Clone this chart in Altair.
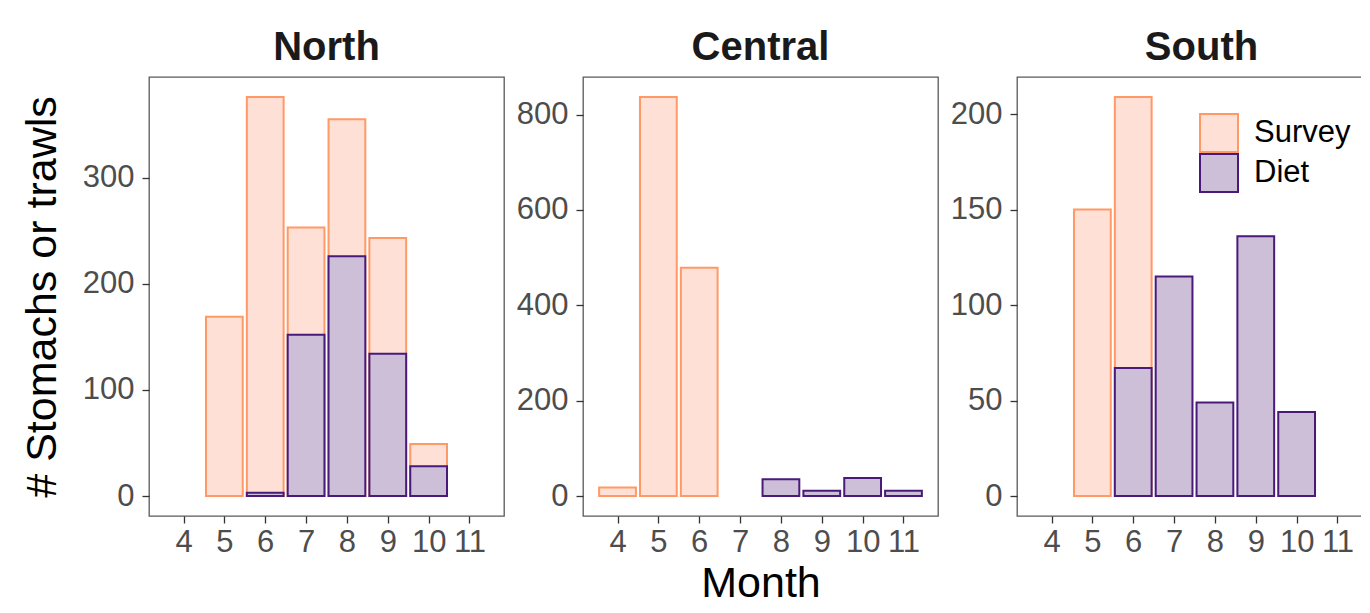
import altair as alt
import pandas as pd

# ---- data ----
regions = ["North", "Central", "South"]
types = ["Survey", "Diet"]

north_survey_months = [5, 6, 7, 8, 9, 10]
north_survey_counts = [169, 376, 253, 355, 243, 49]
north_diet_months = [6, 7, 8, 9, 10]
north_diet_counts = [3, 152, 226, 134, 28]

central_survey_months = [4, 5, 6]
central_survey_counts = [18, 837, 479]
central_diet_months = [8, 9, 10, 11]
central_diet_counts = [35, 11, 38, 11]

south_survey_months = [5, 6]
south_survey_counts = [150, 209]
south_diet_months = [6, 7, 8, 9, 10]
south_diet_counts = [67, 115, 49, 136, 44]

month_ticks = [4, 5, 6, 7, 8, 9, 10, 11]
north_y_ticks = [0, 100, 200, 300]
central_y_ticks = [0, 200, 400, 600, 800]
south_y_ticks = [0, 50, 100, 150, 200]

fill_colors = ["#FFE0D6", "#CDBFD8"]
stroke_colors = ["#FF9966", "#4A1A7A"]

FONT = "Liberation Sans"

series = {
    "North": [(north_survey_months, north_survey_counts), (north_diet_months, north_diet_counts)],
    "Central": [(central_survey_months, central_survey_counts), (central_diet_months, central_diet_counts)],
    "South": [(south_survey_months, south_survey_counts), (south_diet_months, south_diet_counts)],
}

rows = []
for reg in regions:
    for t, (ms, cs) in zip(types, series[reg]):
        for m, c in zip(ms, cs):
            rows.append({"region": reg, "type": t, "month": m, "count": c})
df = pd.DataFrame(rows)

X_MIN = 3.155
X_MAX = 11.845
PANEL_W = 355
PANEL_H = 439


def panel(region, y_ticks, x_title, y_title, legend, title_dx=0):
    d = df[df["region"] == region]
    ymax = float(d["count"].max())
    ydom = [-0.05 * ymax, 1.05 * ymax]

    x_axis = alt.Axis(
        values=month_ticks, labelOverlap=False, labelFlush=False,
        labelPadding=4, title=x_title if x_title else None,
        titlePadding=5,
    )
    if y_title:
        y_axis = alt.Axis(
            values=y_ticks, labelPadding=8, labelOverlap=False, labelFlush=False,
            title=y_title, titleAngle=270, titleX=-94, titleY=PANEL_H / 2,
            titleAlign="center", titleBaseline="alphabetic",
        )
    else:
        y_axis = alt.Axis(values=y_ticks, labelPadding=8, labelOverlap=False,
                          labelFlush=False, title=None)

    if legend:
        lg = alt.Legend(
            title=None, orient="none", legendX=182, legendY=36,
            symbolType="square", symbolSize=1444, symbolStrokeWidth=2,
            symbolOpacity=1, labelFontSize=31, labelFont=FONT, labelColor="black",
            labelOffset=15, rowPadding=0, clipHeight=40, padding=0,
        )
    else:
        lg = None

    fill_kw = dict(scale=alt.Scale(domain=types, range=fill_colors), sort=types, legend=lg)
    stroke_kw = dict(scale=alt.Scale(domain=types, range=stroke_colors), sort=types, legend=lg)

    ch = (
        alt.Chart(d)
        .transform_calculate(x0="datum.month - 0.45", x1="datum.month + 0.45")
        .mark_bar(strokeWidth=2, opacity=1)
        .encode(
            x=alt.X("x0:Q", scale=alt.Scale(domain=[X_MIN, X_MAX], nice=False, zero=False), axis=x_axis),
            x2="x1:Q",
            y=alt.Y("count:Q", stack=None, scale=alt.Scale(domain=ydom, nice=False, zero=False), axis=y_axis),
            y2=alt.datum(0),
            fill=alt.Fill("type:N", **fill_kw),
            stroke=alt.Stroke("type:N", **stroke_kw),
        )
        .properties(width=PANEL_W, height=PANEL_H,
                    title=alt.TitleParams(region, dx=title_dx))
    )
    return ch


north = panel("North", north_y_ticks, None, "# Stomachs or trawls", False)
central = panel("Central", central_y_ticks, "Month", None, False)
south = panel("South", south_y_ticks, None, None, True, title_dx=7)

chart = (
    alt.hconcat(north, central, south, spacing=79, bounds="flush")
    .resolve_legend(fill="independent", stroke="independent")
    .properties(padding={"left": 12, "top": 19, "right": -12, "bottom": 0}, background="white")
    .configure_view(stroke="#595959", strokeWidth=1.3, fill="white")
    .configure_axis(
        domain=False, grid=False, ticks=True, tickColor="#333333", tickSize=7,
        tickWidth=1.3, labelFont=FONT, labelFontSize=31, labelColor="#4D4D4D",
        titleFont=FONT, titleFontSize=43, titleColor="black", titleFontWeight="normal",
    )
    .configure_title(
        font=FONT, fontSize=40, fontWeight="bold", color="#1A1A1A",
        anchor="middle", offset=9, baseline="alphabetic", frame="group",
    )
)

chart.save("out.html", embed_options={"renderer": "svg", "actions": False})
